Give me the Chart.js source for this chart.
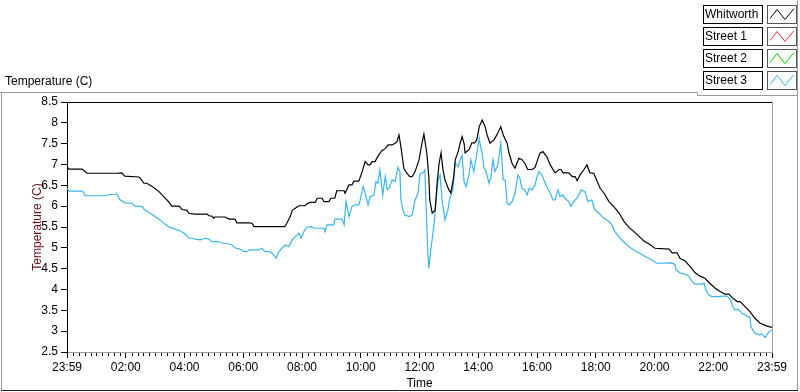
<!DOCTYPE html>
<html>
<head>
<meta charset="utf-8">
<script src="https://cdn.jsdelivr.net/npm/chart.js@4.4.1/dist/chart.umd.min.js"></script>
<style>
html, body { margin: 0; padding: 0; background: #fff; }
canvas { display: block; }
</style>
</head>
<body>
<canvas id="tempChart" width="800" height="392"></canvas>
<script>
// times are minutes after 23:59 of the previous day
const seriesNames = ['Whitworth', 'Street 1', 'Street 2', 'Street 3'];
const seriesColors = ['#000000', '#ff3030', '#00d000', '#3cb4f0'];

const whitworthTime = [0,4,31,35,41,102,112,118,147,149,153,157,163,174,188,200,208,214,229,235,
  245,249,261,286,290,296,300,302,323,331,343,347,372,378,382,445,449,456,460,470,
  474,486,490,496,507,511,521,525,535,539,547,551,566,568,576,582,586,596,603,609,
  615,619,623,629,637,643,650,656,664,670,674,678,682,688,694,700,705,711,719,725,
  729,735,739,741,746,752,756,760,764,768,772,780,784,790,793,799,803,807,811,813,
  821,827,833,837,842,848,854,858,864,872,878,886,891,899,903,909,915,923,929,935,
  941,950,956,960,966,972,980,987,997,1005,1009,1013,1025,1032,1038,1042,1048,1056,1062,1068,
  1076,1083,1089,1097,1107,1117,1128,1138,1148,1158,1168,1179,1189,1201,1230,1236,1246,1252,1262,1273,
  1283,1293,1303,1313,1324,1334,1344,1352,1358,1369,1375,1385,1395,1405,1416,1430,1440];
const whitworthTemp = [6.95,6.89,6.89,6.85,6.79,6.79,6.8,6.72,6.7,6.68,6.62,6.55,6.55,6.47,6.35,6.2,6.1,6.0,6.0,5.92,
  5.9,5.83,5.81,5.81,5.77,5.76,5.71,5.74,5.74,5.69,5.69,5.6,5.6,5.59,5.51,5.51,5.59,5.75,5.9,5.98,
  6.01,6.01,6.05,6.09,6.09,6.19,6.19,6.11,6.11,6.19,6.19,6.37,6.37,6.31,6.51,6.51,6.6,6.6,6.83,7.07,
  6.99,6.99,7.07,7.07,7.23,7.33,7.38,7.47,7.47,7.51,7.55,7.71,7.43,6.91,6.79,6.71,6.71,6.83,7.11,7.51,
  7.73,7.27,6.71,6.15,5.83,5.91,6.55,7.03,7.28,6.87,6.63,6.39,6.32,6.71,7.11,7.31,7.51,7.67,7.51,7.28,
  7.35,7.52,7.52,7.59,7.91,8.07,7.91,7.71,7.51,7.59,7.71,7.91,7.71,7.51,7.27,7.03,6.91,7.15,7.12,7.03,
  6.88,6.88,6.93,7.07,7.27,7.31,7.19,6.99,6.8,6.88,6.88,6.8,6.8,6.71,6.71,6.61,6.75,6.88,6.99,6.8,
  6.79,6.59,6.43,6.31,6.11,5.99,5.83,5.63,5.49,5.39,5.28,5.16,5.09,4.99,4.97,4.88,4.88,4.75,4.69,4.55,
  4.40,4.32,4.27,4.15,4.03,3.95,3.89,3.89,3.81,3.71,3.71,3.59,3.47,3.31,3.19,3.12,3.09];

const street1Time = [];
const street1Temp = [];
const street2Time = [];
const street2Temp = [];

const street3Time = [0,4,31,35,37,78,88,98,102,108,118,133,139,153,159,170,180,190,200,210,
  221,231,239,245,249,255,261,272,282,290,296,310,317,327,337,343,353,362,368,372,
  392,398,404,413,419,427,433,439,445,453,460,466,474,478,484,490,500,505,525,527,
  531,545,547,562,566,570,576,582,588,596,598,605,609,615,619,627,631,635,639,645,
  650,654,658,664,670,676,680,682,686,690,699,705,711,717,721,727,731,733,735,737,
  739,743,750,754,758,762,766,770,772,778,782,788,793,799,803,807,811,815,821,825,
  831,835,842,844,848,852,856,862,866,870,874,880,886,891,895,899,903,909,915,921,
  925,929,935,940,944,950,956,960,964,970,974,980,987,993,997,1003,1007,1013,1017,1025,
  1029,1038,1044,1050,1058,1064,1072,1078,1087,1093,1099,1107,1113,1119,1130,1140,1150,1160,1170,1181,
  1191,1205,1236,1242,1244,1252,1262,1270,1277,1283,1297,1301,1305,1311,1317,1332,1338,1348,1354,1360,
  1364,1371,1379,1389,1395,1397,1405,1413,1420,1426,1434,1440];
const street3Temp = [6.43,6.36,6.36,6.31,6.25,6.25,6.28,6.28,6.3,6.16,6.08,6.07,6.0,5.99,5.91,5.83,5.75,5.67,5.57,5.49,
  5.45,5.41,5.35,5.29,5.23,5.23,5.21,5.19,5.23,5.21,5.15,5.15,5.11,5.11,5.07,5.0,4.97,4.91,4.91,4.95,
  4.95,4.99,4.91,4.91,4.87,4.75,4.91,4.99,5.07,5.03,5.19,5.27,5.35,5.23,5.39,5.5,5.51,5.47,5.47,5.39,
  5.55,5.55,5.69,5.69,5.55,6.11,5.75,5.99,6.03,6.03,6.11,6.47,6.31,6.03,6.23,6.27,6.59,6.55,6.87,6.27,
  6.71,6.39,6.43,6.63,6.59,6.93,6.83,6.15,5.91,5.79,5.75,5.79,6.15,6.31,6.79,6.79,6.87,6.15,5.51,4.87,
  4.51,4.95,5.59,6.15,6.63,6.75,6.15,5.83,5.67,5.91,6.19,6.39,7.03,6.95,7.11,7.23,6.59,6.47,6.75,7.11,
  6.83,7.11,7.63,7.47,7.27,6.91,6.83,6.55,6.71,7.11,6.83,6.99,7.51,6.63,6.63,6.07,6.03,6.11,6.31,6.75,
  6.67,6.43,6.39,6.27,6.43,6.39,6.51,6.71,6.83,6.75,6.63,6.47,6.31,6.15,6.15,6.39,6.23,6.27,6.19,6.11,
  6.0,6.15,6.23,6.39,6.35,6.11,6.15,5.91,5.83,5.75,5.69,5.63,5.55,5.39,5.23,5.11,5.01,4.93,4.87,4.79,
  4.73,4.63,4.64,4.59,4.47,4.40,4.37,4.32,4.19,4.13,4.13,4.16,3.99,3.87,3.83,3.83,3.84,3.84,3.77,3.59,
  3.51,3.53,3.43,3.36,3.33,3.11,2.95,2.91,2.93,2.85,2.99,3.03];

const xTickLabels = ['23:59','02:00','04:00','06:00','08:00','10:00','12:00','14:00','16:00','18:00','20:00','22:00','23:59'];
const yMin = 2.5, yMax = 8.5, yStep = 0.5;

const allTimes = [whitworthTime, street1Time, street2Time, street3Time];
const allTemps = [whitworthTemp, street1Temp, street2Temp, street3Temp];

const FONT = '"Liberation Sans", Arial, sans-serif';

function toPoints(t, v) {
    return t.map((m, i) => ({ x: m, y: v[i] }));
}

const datasets = seriesNames.map((name, i) => ({
    label: name,
    data: toPoints(allTimes[i], allTemps[i]),
    borderColor: seriesColors[i],
    borderWidth: 1.2,
    pointRadius: 0,
    tension: 0,
    fill: false
}));

// frame, minor ticks, caption and the LabVIEW style plot legend
const decorations = {
    id: 'decorations',
    afterDraw(chart) {
        const ctx = chart.ctx;
        const a = chart.chartArea;
        const xs = chart.scales.x;
        ctx.save();
        ctx.lineWidth = 1;

        // minor ticks on the time axis
        ctx.strokeStyle = '#000';
        ctx.beginPath();
        for (let m = 0; m <= 1440; m += 12) {
            if (m % 120 === 0) continue;
            const px = Math.round(xs.getPixelForValue(m)) + 0.5;
            ctx.moveTo(px, a.bottom + 1);
            ctx.lineTo(px, a.bottom + 4);
        }
        ctx.stroke();

        // plot frame top (black) and right (gray)
        ctx.beginPath();
        ctx.strokeStyle = '#000';
        ctx.moveTo(a.left, a.top + 0.5);
        ctx.lineTo(a.right, a.top + 0.5);
        ctx.stroke();
        ctx.beginPath();
        ctx.strokeStyle = '#a0a0a0';
        ctx.moveTo(a.right + 0.5, a.top);
        ctx.lineTo(a.right + 0.5, a.bottom + 1);
        ctx.stroke();

        // outer panel
        ctx.beginPath();
        ctx.strokeStyle = '#9a9a9a';
        ctx.moveTo(0, 92.5); ctx.lineTo(697.5, 92.5); ctx.lineTo(697.5, 95.5); ctx.lineTo(797.5, 95.5);
        ctx.moveTo(1.5, 92.5); ctx.lineTo(1.5, 391);
        ctx.moveTo(797.5, 0); ctx.lineTo(797.5, 391);
        ctx.stroke();
        ctx.beginPath();
        ctx.strokeStyle = '#202020';
        ctx.moveTo(1, 390.5); ctx.lineTo(798, 390.5);
        ctx.stroke();

        // caption
        ctx.fillStyle = '#000';
        ctx.font = '12px ' + FONT;
        ctx.textBaseline = 'middle';
        ctx.textAlign = 'left';
        ctx.fillText('Temperature (C)', 5, 82);

        // legend
        chart.data.datasets.forEach((ds, i) => {
            const top = 4.5 + i * 22.3;
            const y0 = Math.round(top) + 0.5;
            ctx.fillStyle = '#fff';
            ctx.fillRect(703, y0, 59, 18);
            ctx.fillRect(767, y0, 29, 18);
            ctx.strokeStyle = '#000';
            ctx.strokeRect(703.5, y0, 59, 18);
            ctx.strokeStyle = '#555';
            ctx.strokeRect(767.5, y0, 29, 18);
            ctx.fillStyle = '#000';
            ctx.fillText(ds.label, 705, y0 + 9.5);
            ctx.beginPath();
            ctx.strokeStyle = ds.borderColor;
            ctx.moveTo(770, y0 + 13);
            ctx.lineTo(777, y0 + 4);
            ctx.lineTo(785, y0 + 14);
            ctx.lineTo(794, y0 + 3);
            ctx.stroke();
        });
        ctx.restore();
    }
};

const chart = new Chart(document.getElementById('tempChart').getContext('2d'), {
    type: 'line',
    data: { datasets: datasets },
    options: {
        responsive: false,
        animation: false,
        layout: { padding: { left: 0, top: 102, right: 28, bottom: 0 } },
        plugins: { legend: { display: false }, tooltip: { enabled: false } },
        scales: {
            x: {
                type: 'linear',
                min: 0,
                max: 1440,
                afterFit: s => { s.height = 40; },
                afterBuildTicks: s => {
                    s.ticks = xTickLabels.map((lab, i) => ({ value: i * 120 }));
                },
                ticks: {
                    autoSkip: false,
                    maxRotation: 0,
                    padding: 2,
                    color: '#000',
                    font: { family: FONT, size: 12 },
                    callback: (v, i) => xTickLabels[i]
                },
                grid: { drawOnChartArea: false, tickLength: 6, tickColor: '#000' },
                border: { color: '#a0a0a0' },
                title: {
                    display: true,
                    text: 'Time',
                    color: '#000',
                    font: { family: FONT, size: 12 },
                    padding: { top: 0, bottom: 1 }
                }
            },
            y: {
                min: yMin,
                max: yMax,
                afterFit: s => { s.width = 67; },
                ticks: {
                    stepSize: yStep,
                    padding: 3,
                    color: '#000',
                    font: { family: FONT, size: 12 },
                    callback: v => String(v)
                },
                grid: { drawOnChartArea: false, tickLength: 6, tickColor: '#000' },
                border: { color: '#000' },
                title: {
                    display: true,
                    text: 'Temperature (C)',
                    color: '#6e0a14',
                    font: { family: FONT, size: 12 },
                    padding: { top: 30, bottom: 0 }
                }
            }
        }
    },
    plugins: [decorations]
});
</script>
</body>
</html>
